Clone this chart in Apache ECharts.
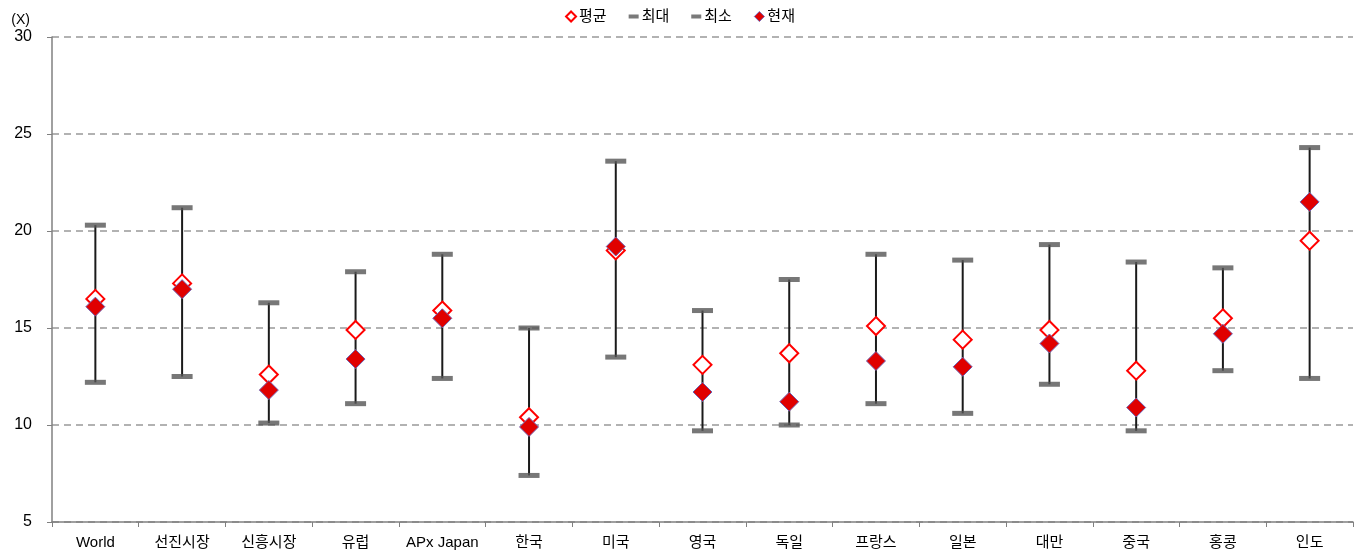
<!DOCTYPE html>
<html>
<head>
<meta charset="utf-8">
<script src="https://cdn.jsdelivr.net/npm/echarts@6/dist/echarts.min.js"></script>
<style>
html,body{margin:0;padding:0;background:#fff;}
#chart{width:1360px;height:557px;}
</style>
</head>
<body>
<div id="chart"></div>
<script>
var categories = ['World','선진시장','신흥시장','유럽','APx Japan','한국','미국','영국','독일','프랑스','일본','대만','중국','홍콩','인도'];
var avgValues = [16.5,17.3,12.6,14.9,15.9,10.4,19.0,13.1,13.7,15.1,14.4,14.9,12.8,15.5,19.5];
var maxValues = [20.3,21.2,16.3,17.9,18.8,15.0,23.6,15.9,17.5,18.8,18.5,19.3,18.4,18.1,24.3];
var minValues = [12.2,12.5,10.1,11.1,12.4,7.4,13.5,9.7,10.0,11.1,10.6,12.1,9.7,12.8,12.4];
var curValues = [16.1,17.0,11.8,13.4,15.5,9.9,19.2,11.7,11.2,13.3,13.0,14.2,10.9,14.7,21.5];
var yTicks = [5,10,15,20,25,30];

var chart = echarts.init(document.getElementById('chart'));
var font = '"Liberation Sans", "Noto Sans CJK KR", sans-serif';
var rangeData = categories.map(function(c,i){ return [i, minValues[i], maxValues[i]]; });

chart.setOption({
  animation: false,
  textStyle: {fontFamily: font},
  legend: {
    top: 4,
    left: 'center',
    itemWidth: 10,
    itemHeight: 10,
    itemGap: 22,
    textStyle: {fontSize: 15, color: '#000', fontFamily: font, padding: [0,0,0,-2]},
    data: [
      {name: '평균', icon: 'diamond', itemStyle: {color: '#fff', borderColor: '#ff0000', borderWidth: 2}},
      {name: '최대', icon: 'path://M0,0 L10,0 L10,4 L0,4 Z', itemStyle: {color: '#595959', borderWidth: 0}},
      {name: '최소', icon: 'path://M0,0 L10,0 L10,4 L0,4 Z', itemStyle: {color: '#595959', borderWidth: 0}},
      {name: '현재', icon: 'diamond', itemStyle: {color: '#e00000', borderColor: '#7060b0', borderWidth: 1}}
    ]
  },
  grid: {left: 52, right: 7, top: 37, bottom: 35, containLabel: false},
  xAxis: {
    type: 'category',
    data: categories,
    boundaryGap: true,
    axisLine: {lineStyle: {color: '#808080', width: 1.5}},
    axisTick: {show: true, length: 5, lineStyle: {color: '#808080'}, alignWithLabel: false},
    axisLabel: {color: '#000', fontSize: 15, margin: 13, fontFamily: font, interval: 0},
    splitLine: {show: false}
  },
  yAxis: {
    type: 'value',
    min: yTicks[0],
    max: yTicks[yTicks.length-1],
    interval: 5,
    name: '(X)',
    nameLocation: 'end',
    nameGap: 10,
    nameTextStyle: {color: '#000', fontSize: 14, align: 'right', padding: [0, 22, 0, 0], fontFamily: font},
    axisLine: {show: true, lineStyle: {color: '#808080', width: 1.5}},
    axisTick: {show: true, length: 5, lineStyle: {color: '#808080'}},
    axisLabel: {color: '#000', fontSize: 16, margin: 20, fontFamily: font},
    splitLine: {show: true, lineStyle: {color: '#999', type: [7,5], width: 1.5}}
  },
  series: [
    {
      type: 'custom',
      name: 'range',
      data: rangeData,
      silent: true,
      z: 1,
      renderItem: function(params, api){
        var p1 = api.coord([api.value(0), api.value(1)]);
        var p2 = api.coord([api.value(0), api.value(2)]);
        return {type: 'line', shape: {x1: p1[0], y1: p1[1], x2: p2[0], y2: p2[1]}, style: {stroke: '#1a1a1a', lineWidth: 2}};
      }
    },
    {
      type: 'scatter', name: '최대', data: maxValues, z: 2,
      symbol: 'rect', symbolSize: [21, 5],
      itemStyle: {color: '#555555'}
    },
    {
      type: 'scatter', name: '최소', data: minValues, z: 2,
      symbol: 'rect', symbolSize: [21, 5],
      itemStyle: {color: '#555555'}
    },
    {
      type: 'scatter', name: '평균', data: avgValues, z: 3,
      symbol: 'diamond', symbolSize: [18, 18],
      itemStyle: {color: '#fff', borderColor: '#ff0000', borderWidth: 2, opacity: 1}
    },
    {
      type: 'scatter', name: '현재', data: curValues, z: 4,
      symbol: 'diamond', symbolSize: [19, 19],
      itemStyle: {color: '#e00000', borderColor: '#7060b0', borderWidth: 1, opacity: 1}
    }
  ]
});
</script>
</body>
</html>
